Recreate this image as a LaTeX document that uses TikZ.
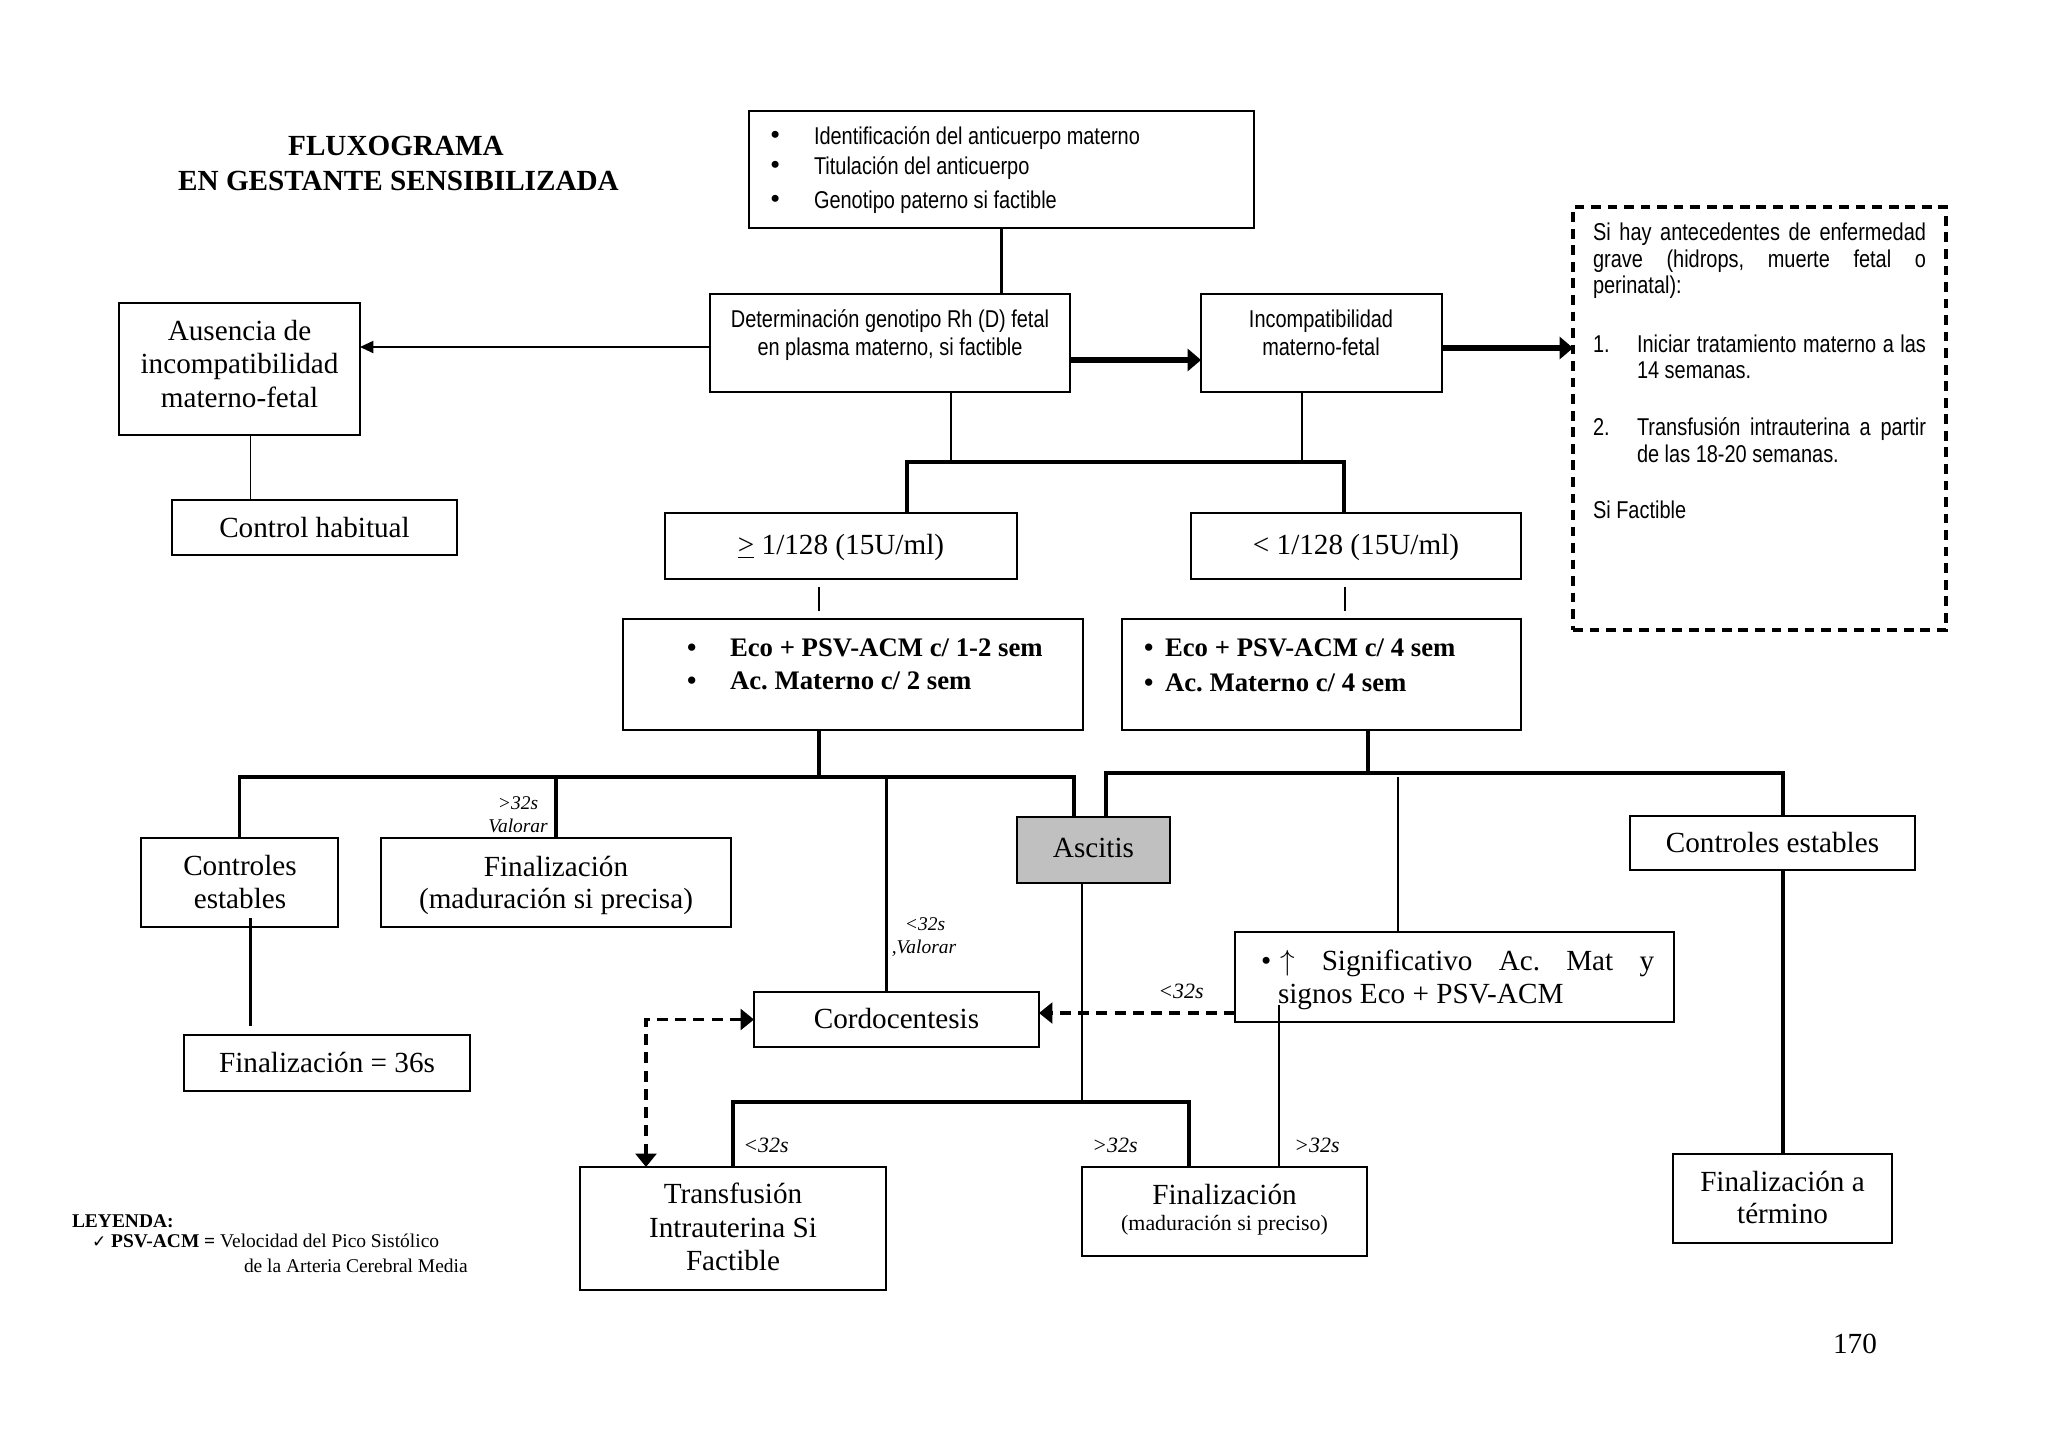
\documentclass[tikz,border=0pt]{standalone}
\usepackage{fontspec}
\setmainfont{Liberation Serif}
\newfontfamily\narrowsans[FakeStretch=0.82]{Liberation Sans}
\newfontfamily\dejavu{DejaVu Sans}
\usetikzlibrary{arrows.meta,calc}
\frenchspacing
\newcommand\pxu{0.41113pt}
\newcommand\bx[6][]{\node[box,#1,minimum width={(#5-#3)*\pxu},minimum height={(#6-#4)*\pxu}] (#2) at ({(#3+#5)/2},{(#4+#6)/2}) {};}
\newcommand\tx[4][]{\node[txt,#1] (#2) at (#3) {#4};}
\definecolor{ascgray}{RGB}{192,192,192}
\begin{document}
\begin{tikzpicture}[x=0.41113pt,y=-0.41113pt,
  box/.style={draw,line width=1.2pt,inner sep=0pt,outer sep=0pt},
  dashbox/.style={line width=1.4pt,dash pattern=on 4pt off 2.8pt},
  txt/.style={anchor=base,inner sep=0pt,outer sep=0pt,font=\fontsize{12}{14}\selectfont},
  sans/.style={font=\fontsize{10}{12}\narrowsans},
  boldt/.style={anchor=base west,font=\fontsize{11}{13}\selectfont\bfseries},
  lab/.style={font=\fontsize{8}{9}\selectfont\itshape},
  labb/.style={font=\fontsize{9}{10}\selectfont\itshape},
  thinln/.style={line width=0.6pt},
  medln/.style={line width=1.2pt},
  thickln/.style={line width=1.5pt},
  thinarrow/.style={thinln,-{Triangle[length=5.5pt,width=5pt]}},
  bigarrow/.style={line width=2.2pt,-{Triangle[length=5.5pt,width=9pt]}},
  dasharrow/.style={line width=1.5pt,dash pattern=on 4.5pt off 3pt,-{Triangle[length=5.5pt,width=8.5pt]}},
  dasharrows/.style={line width=1.5pt,dash pattern=on 4.5pt off 3pt,{Triangle[length=5.5pt,width=8.5pt]}-{Triangle[length=5.5pt,width=8.5pt]}}
]
\useasboundingbox (0,0) rectangle (2048,1448);

% ---------- boxes ----------
\bx{top}{749}{111}{1254}{228}
\bx{det}{710}{294}{1070}{392}
\bx{inc}{1201}{294}{1442}{392}
\bx[dashbox]{dash}{1573}{207}{1946}{630}
\bx{aus}{119}{303}{360}{435}
\bx{ctrl}{172}{500}{457}{555}
\bx{ge}{665}{513}{1017}{579}
\bx{lt}{1191}{513}{1521}{579}
\bx{ecoL}{623}{619}{1083}{730}
\bx{ecoR}{1122}{619}{1521}{730}
\bx{ce1}{141}{838}{338}{927}
\bx{fin1}{381}{838}{731}{927}
\bx[fill=ascgray]{asc}{1017}{817}{1170}{883}
\bx{ce2}{1630}{816}{1915}{870}
\bx{sig}{1235}{932}{1674}{1022}
\bx{cordo}{754}{992}{1039}{1047}
\bx{fin36}{184}{1035}{470}{1091}
\bx{transf}{580}{1167}{886}{1290}
\bx{finm}{1082}{1167}{1367}{1256}
\bx{fterm}{1673}{1154}{1892}{1243}

% ---------- connectors ----------
\draw[thickln] (top.south) -- (det.north -| top.south);
\draw[bigarrow] ($(det.east)+(0,17)$) -- ($(inc.west)+(0,17)$);
\draw[bigarrow] ($(inc.east)+(0,5)$) -- ($(dash.west |- inc.east)+(0,5)$);
\draw[thinarrow] ($(det.west)+(0,4)$) -- ($(aus.east |- det.west)+(0,4)$);
\draw[thinln] ($(aus.south)+(11,0)$) -- ($(ctrl.north -| aus.south)+(11,0)$);

\coordinate (b1L) at (907,462);
\coordinate (b1R) at (1344,462);
\draw[thinln] ($(det.south)+(61,0)$) coordinate (d1) -- (d1 |- b1L);
\draw[thinln] ($(inc.south)+(-19.5,0)$) coordinate (d2) -- (d2 |- b1R);
\draw[thickln] (ge.north -| b1L) -- (b1L) -- (b1R) -- (lt.north -| b1R);
\draw[thinln] ($(ge.south)+(-22,8)$) -- ($(ecoL.north -| ge.south)+(-22,-8)$);
\draw[thinln] ($(lt.south)+(-11,8)$) -- ($(ecoR.north -| lt.south)+(-11,-8)$);

% left tree
\coordinate (b2L) at (240,777);
\coordinate (b2R) at (1074,777);
\draw[thickln] ($(ecoL.south)+(-34,0)$) coordinate (e1) -- (e1 |- b2L);
\draw[thickln] (ce1.north) -- (ce1.north |- b2L) -- (b2R) -- (b2R |- asc.north);
\draw[thickln] (fin1.north) -- (fin1.north |- b2L);
\draw[medln] ($(cordo.north)+(-10,0)$) coordinate (c1) -- (c1 |- b2L);
\draw[medln] ($(ce1.south)+(11,-9)$) -- ($(fin36.north -| ce1.south)+(11,-9)$);

% right tree
\coordinate (b3L) at (1106,773);
\coordinate (b3R) at (1783,773);
\draw[thickln] ($(ecoR.south)+(46.5,0)$) coordinate (e2) -- (e2 |- b3L);
\draw[thickln] (b3L |- asc.north) -- (b3L) -- (b3R) -- (b3R |- ce2.north);
\draw[medln] ($(sig.north)+(-56.5,0)$) coordinate (s1) -- ($(s1 |- b3L)+(0,4)$);
\draw[thickln] ($(ce2.south)+(10.5,0)$) coordinate (g1) -- (g1 |- fterm.north);

% ascitis tree
\coordinate (b4L) at (733,1102);
\coordinate (b4R) at (1189,1102);
\draw[medln] ($(asc.south)+(-11.5,0)$) coordinate (a1) -- (a1 |- b4L);
\draw[thickln] (transf.north) -- (transf.north |- b4L) -- (b4R) -- (b4R |- finm.north);
\draw[medln] ($(finm.north)+(54.5,0)$) coordinate (f1) -- ($(f1 |- sig.south)+(0,-17)$);

% dashed connectors
\draw[dasharrow] ($(sig.west)+(0,36)$) -- ($(cordo.east |- sig.west)+(0,36)$);
\draw[dasharrows] ($(transf.north)+(-87,0)$) |- (cordo.west);

% ---------- texts ----------
\tx[font=\fontsize{12}{14}\selectfont\bfseries]{title1}{396,155}{FLUXOGRAMA}
\tx[font=\fontsize{12}{14}\selectfont\bfseries]{title2}{398.5,190}{EN GESTANTE SENSIBILIZADA}

\tx[anchor=base west]{tb1}{770,144}{\textbullet}
\tx[anchor=base west]{tb2}{770,174}{\textbullet}
\tx[anchor=base west]{tb3}{770,208}{\textbullet}
\tx[sans,anchor=base west]{tt1}{814,144}{Identificación del anticuerpo materno}
\tx[sans,anchor=base west]{tt2}{814,174}{Titulación del anticuerpo}
\tx[sans,anchor=base west]{tt3}{814,208}{Genotipo paterno si factible}

\tx[sans]{dt1}{890,327}{Determinación genotipo Rh (D) fetal}
\tx[sans]{dt2}{890,355}{en plasma materno, si factible}
\tx[sans]{it1}{1321,327}{Incompatibilidad}
\tx[sans]{it2}{1321,355}{materno-fetal}

\tx[sans,anchor=base west]{x1}{1593,240}{\makebox[136.9pt][s]{Si hay antecedentes de enfermedad}}
\tx[sans,anchor=base west]{x2}{1593,267}{\makebox[136.9pt][s]{grave (hidrops, muerte fetal o}}
\tx[sans,anchor=base west]{x3}{1593,293}{perinatal):}
\tx[sans,anchor=base west]{x4n}{1593,352}{1.}
\tx[sans,anchor=base west]{x4}{1637,352}{\makebox[118.8pt][s]{Iniciar tratamiento materno a las}}
\tx[sans,anchor=base west]{x5}{1637,378}{14 semanas.}
\tx[sans,anchor=base west]{x6n}{1593,435}{2.}
\tx[sans,anchor=base west]{x6}{1637,435}{\makebox[118.8pt][s]{Transfusión intrauterina a partir}}
\tx[sans,anchor=base west]{x7}{1637,462}{de las 18-20 semanas.}
\tx[sans,anchor=base west]{x8}{1593,518}{Si Factible}

\tx{at1}{239.5,340}{Ausencia de}
\tx{at2}{239.5,373}{incompatibilidad}
\tx{at3}{239.5,407}{materno-fetal}
\tx{ct}{314.5,537}{Control habitual}

\tx{get}{841,554}{\underline{>} 1/128 (15U/ml)}
\tx{ltt}{1356,554}{< 1/128 (15U/ml)}

\tx[boldt]{el1b}{687,656}{\textbullet}
\tx[boldt]{el1}{730,656}{Eco + PSV-ACM c/ 1-2 sem}
\tx[boldt]{el2b}{687,689}{\textbullet}
\tx[boldt]{el2}{730,689}{Ac. Materno c/ 2 sem}
\tx[boldt]{er1b}{1144,656}{\textbullet}
\tx[boldt]{er1}{1165,656}{Eco + PSV-ACM c/ 4 sem}
\tx[boldt]{er2b}{1144,691}{\textbullet}
\tx[boldt]{er2}{1165,691}{Ac. Materno c/ 4 sem}

\tx{ce1a}{240,875}{Controles}
\tx{ce1b}{240,908}{estables}
\tx{f1a}{556,876}{Finalización}
\tx{f1b}{556,908}{(maduración si precisa)}
\tx{f36}{327,1072}{Finalización = 36s}
\tx{asct}{1093.5,857}{Ascitis}
\tx{cot}{896.5,1028}{Cordocentesis}
\tx{ce2t}{1772.5,852}{Controles estables}
\tx[anchor=base west]{sg1}{1261,970}{\makebox[161.6pt][s]{\textbullet\hspace{4pt}$\uparrow$ Significativo Ac. Mat y}}
\tx[anchor=base west]{sg2}{1278,1003}{signos Eco + PSV-ACM}
\tx{fta}{1782.5,1191}{Finalización a}
\tx{ftb}{1782.5,1223}{término}
\tx{tra}{733,1203}{Transfusión}
\tx{trb}{733,1237}{Intrauterina Si}
\tx{trc}{733,1270}{Factible}
\tx{fma}{1224.5,1204}{Finalización}
\tx[font=\fontsize{9}{10}\selectfont]{fmb}{1224.5,1230}{(maduración si preciso)}

% labels
\tx[lab]{l1a}{518,809}{>32s}
\tx[lab]{l1b}{518,832}{Valorar}
\tx[lab]{l2a}{925,930}{<32s}
\tx[lab]{l2b}{924,953}{,Valorar}
\tx[labb]{l3}{1181,998}{<32s}
\tx[labb]{l4}{766,1152}{<32s}
\tx[labb]{l5}{1115,1152}{>32s}
\tx[labb]{l6}{1317,1152}{>32s}

% legend
\tx[anchor=base west,font=\fontsize{8}{9}\selectfont\bfseries]{lg1}{72,1227}{LEYENDA:}
\tx[anchor=base west,font=\fontsize{8}{9}\selectfont]{lg2}{92,1247}{{\dejavu\fontsize{7}{8}\selectfont ✓} \textbf{PSV-ACM =} Velocidad del Pico Sistólico}
\tx[anchor=base west,font=\fontsize{8}{9}\selectfont]{lg3}{244,1272}{de la Arteria Cerebral Media}

\tx{pg}{1855,1353}{170}
\end{tikzpicture}
\end{document}
